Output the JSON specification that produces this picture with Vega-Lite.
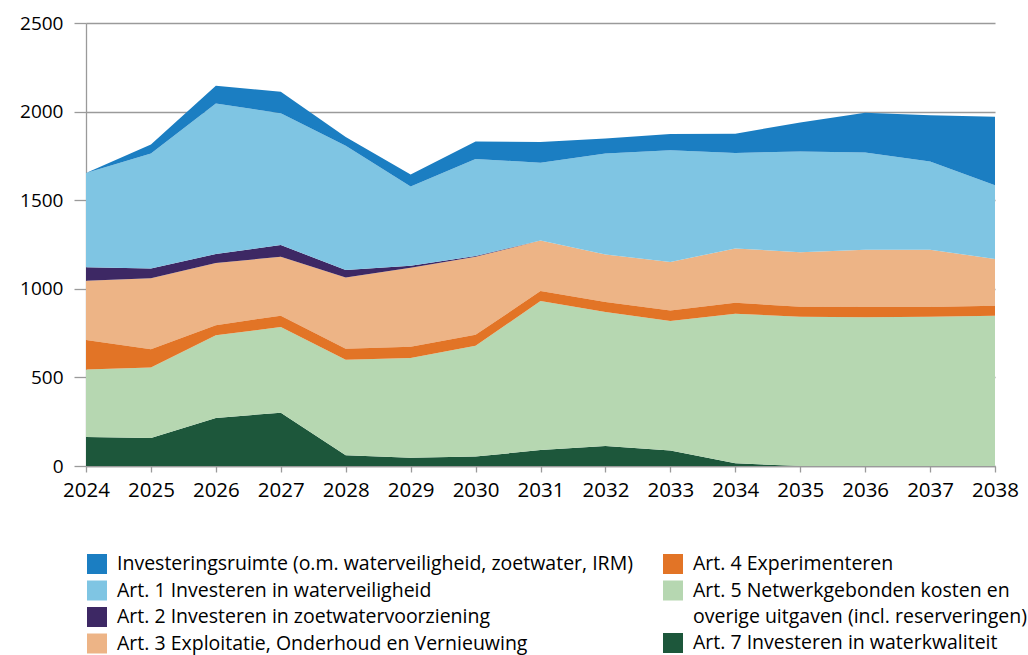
{
  "$schema": "https://vega.github.io/schema/vega-lite/v6.json",
  "width": 909,
  "height": 443,
  "autosize": {"type": "none"},
  "padding": {"left": 86, "top": 23, "right": 33, "bottom": 189},
  "config": {
    "view": {"stroke": null},
    "font": "Open Sans",
    "style": {"guide-label": {"lineHeight": 26}},
    "axis": {"domainColor": "#9a9a9a", "tickColor": "#9a9a9a", "gridColor": "#9a9a9a", "labelColor": "#000000", "domainWidth": 1.3, "tickWidth": 1.3, "gridWidth": 1.3}
  },
  "data": {
    "values": [
      {"jaar": 2024, "serie": "Art. 7 Investeren in waterkwaliteit", "waarde": 164},
      {"jaar": 2024, "serie": "Art. 5 Netwerkgebonden kosten en overige uitgaven (incl. reserveringen)", "waarde": 381},
      {"jaar": 2024, "serie": "Art. 4 Experimenteren", "waarde": 166},
      {"jaar": 2024, "serie": "Art. 3 Exploitatie, Onderhoud en Vernieuwing", "waarde": 334},
      {"jaar": 2024, "serie": "Art. 2 Investeren in zoetwatervoorziening", "waarde": 77},
      {"jaar": 2024, "serie": "Art. 1 Investeren in waterveiligheid", "waarde": 531},
      {"jaar": 2024, "serie": "Investeringsruimte (o.m. waterveiligheid, zoetwater, IRM)", "waarde": 0},
      {"jaar": 2025, "serie": "Art. 7 Investeren in waterkwaliteit", "waarde": 158},
      {"jaar": 2025, "serie": "Art. 5 Netwerkgebonden kosten en overige uitgaven (incl. reserveringen)", "waarde": 398},
      {"jaar": 2025, "serie": "Art. 4 Experimenteren", "waarde": 103},
      {"jaar": 2025, "serie": "Art. 3 Exploitatie, Onderhoud en Vernieuwing", "waarde": 400},
      {"jaar": 2025, "serie": "Art. 2 Investeren in zoetwatervoorziening", "waarde": 56},
      {"jaar": 2025, "serie": "Art. 1 Investeren in waterveiligheid", "waarde": 648},
      {"jaar": 2025, "serie": "Investeringsruimte (o.m. waterveiligheid, zoetwater, IRM)", "waarde": 51},
      {"jaar": 2026, "serie": "Art. 7 Investeren in waterkwaliteit", "waarde": 271},
      {"jaar": 2026, "serie": "Art. 5 Netwerkgebonden kosten en overige uitgaven (incl. reserveringen)", "waarde": 467},
      {"jaar": 2026, "serie": "Art. 4 Experimenteren", "waarde": 57},
      {"jaar": 2026, "serie": "Art. 3 Exploitatie, Onderhoud en Vernieuwing", "waarde": 350},
      {"jaar": 2026, "serie": "Art. 2 Investeren in zoetwatervoorziening", "waarde": 51},
      {"jaar": 2026, "serie": "Art. 1 Investeren in waterveiligheid", "waarde": 850},
      {"jaar": 2026, "serie": "Investeringsruimte (o.m. waterveiligheid, zoetwater, IRM)", "waarde": 100},
      {"jaar": 2027, "serie": "Art. 7 Investeren in waterkwaliteit", "waarde": 301},
      {"jaar": 2027, "serie": "Art. 5 Netwerkgebonden kosten en overige uitgaven (incl. reserveringen)", "waarde": 483},
      {"jaar": 2027, "serie": "Art. 4 Experimenteren", "waarde": 64},
      {"jaar": 2027, "serie": "Art. 3 Exploitatie, Onderhoud en Vernieuwing", "waarde": 333},
      {"jaar": 2027, "serie": "Art. 2 Investeren in zoetwatervoorziening", "waarde": 66},
      {"jaar": 2027, "serie": "Art. 1 Investeren in waterveiligheid", "waarde": 743},
      {"jaar": 2027, "serie": "Investeringsruimte (o.m. waterveiligheid, zoetwater, IRM)", "waarde": 122},
      {"jaar": 2028, "serie": "Art. 7 Investeren in waterkwaliteit", "waarde": 60},
      {"jaar": 2028, "serie": "Art. 5 Netwerkgebonden kosten en overige uitgaven (incl. reserveringen)", "waarde": 539},
      {"jaar": 2028, "serie": "Art. 4 Experimenteren", "waarde": 62},
      {"jaar": 2028, "serie": "Art. 3 Exploitatie, Onderhoud en Vernieuwing", "waarde": 403},
      {"jaar": 2028, "serie": "Art. 2 Investeren in zoetwatervoorziening", "waarde": 42},
      {"jaar": 2028, "serie": "Art. 1 Investeren in waterveiligheid", "waarde": 701},
      {"jaar": 2028, "serie": "Investeringsruimte (o.m. waterveiligheid, zoetwater, IRM)", "waarde": 49},
      {"jaar": 2029, "serie": "Art. 7 Investeren in waterkwaliteit", "waarde": 47},
      {"jaar": 2029, "serie": "Art. 5 Netwerkgebonden kosten en overige uitgaven (incl. reserveringen)", "waarde": 563},
      {"jaar": 2029, "serie": "Art. 4 Experimenteren", "waarde": 63},
      {"jaar": 2029, "serie": "Art. 3 Exploitatie, Onderhoud en Vernieuwing", "waarde": 446},
      {"jaar": 2029, "serie": "Art. 2 Investeren in zoetwatervoorziening", "waarde": 11},
      {"jaar": 2029, "serie": "Art. 1 Investeren in waterveiligheid", "waarde": 447},
      {"jaar": 2029, "serie": "Investeringsruimte (o.m. waterveiligheid, zoetwater, IRM)", "waarde": 68},
      {"jaar": 2030, "serie": "Art. 7 Investeren in waterkwaliteit", "waarde": 53},
      {"jaar": 2030, "serie": "Art. 5 Netwerkgebonden kosten en overige uitgaven (incl. reserveringen)", "waarde": 625},
      {"jaar": 2030, "serie": "Art. 4 Experimenteren", "waarde": 62},
      {"jaar": 2030, "serie": "Art. 3 Exploitatie, Onderhoud en Vernieuwing", "waarde": 441},
      {"jaar": 2030, "serie": "Art. 2 Investeren in zoetwatervoorziening", "waarde": 4},
      {"jaar": 2030, "serie": "Art. 1 Investeren in waterveiligheid", "waarde": 548},
      {"jaar": 2030, "serie": "Investeringsruimte (o.m. waterveiligheid, zoetwater, IRM)", "waarde": 98},
      {"jaar": 2031, "serie": "Art. 7 Investeren in waterkwaliteit", "waarde": 90},
      {"jaar": 2031, "serie": "Art. 5 Netwerkgebonden kosten en overige uitgaven (incl. reserveringen)", "waarde": 841},
      {"jaar": 2031, "serie": "Art. 4 Experimenteren", "waarde": 56},
      {"jaar": 2031, "serie": "Art. 3 Exploitatie, Onderhoud en Vernieuwing", "waarde": 285},
      {"jaar": 2031, "serie": "Art. 2 Investeren in zoetwatervoorziening", "waarde": 0},
      {"jaar": 2031, "serie": "Art. 1 Investeren in waterveiligheid", "waarde": 439},
      {"jaar": 2031, "serie": "Investeringsruimte (o.m. waterveiligheid, zoetwater, IRM)", "waarde": 118},
      {"jaar": 2032, "serie": "Art. 7 Investeren in waterkwaliteit", "waarde": 113},
      {"jaar": 2032, "serie": "Art. 5 Netwerkgebonden kosten en overige uitgaven (incl. reserveringen)", "waarde": 756},
      {"jaar": 2032, "serie": "Art. 4 Experimenteren", "waarde": 56},
      {"jaar": 2032, "serie": "Art. 3 Exploitatie, Onderhoud en Vernieuwing", "waarde": 269},
      {"jaar": 2032, "serie": "Art. 2 Investeren in zoetwatervoorziening", "waarde": 0},
      {"jaar": 2032, "serie": "Art. 1 Investeren in waterveiligheid", "waarde": 569},
      {"jaar": 2032, "serie": "Investeringsruimte (o.m. waterveiligheid, zoetwater, IRM)", "waarde": 85},
      {"jaar": 2033, "serie": "Art. 7 Investeren in waterkwaliteit", "waarde": 87},
      {"jaar": 2033, "serie": "Art. 5 Netwerkgebonden kosten en overige uitgaven (incl. reserveringen)", "waarde": 731},
      {"jaar": 2033, "serie": "Art. 4 Experimenteren", "waarde": 60},
      {"jaar": 2033, "serie": "Art. 3 Exploitatie, Onderhoud en Vernieuwing", "waarde": 273},
      {"jaar": 2033, "serie": "Art. 2 Investeren in zoetwatervoorziening", "waarde": 0},
      {"jaar": 2033, "serie": "Art. 1 Investeren in waterveiligheid", "waarde": 631},
      {"jaar": 2033, "serie": "Investeringsruimte (o.m. waterveiligheid, zoetwater, IRM)", "waarde": 91},
      {"jaar": 2034, "serie": "Art. 7 Investeren in waterkwaliteit", "waarde": 15},
      {"jaar": 2034, "serie": "Art. 5 Netwerkgebonden kosten en overige uitgaven (incl. reserveringen)", "waarde": 844},
      {"jaar": 2034, "serie": "Art. 4 Experimenteren", "waarde": 62},
      {"jaar": 2034, "serie": "Art. 3 Exploitatie, Onderhoud en Vernieuwing", "waarde": 307},
      {"jaar": 2034, "serie": "Art. 2 Investeren in zoetwatervoorziening", "waarde": 0},
      {"jaar": 2034, "serie": "Art. 1 Investeren in waterveiligheid", "waarde": 539},
      {"jaar": 2034, "serie": "Investeringsruimte (o.m. waterveiligheid, zoetwater, IRM)", "waarde": 108},
      {"jaar": 2035, "serie": "Art. 7 Investeren in waterkwaliteit", "waarde": 0},
      {"jaar": 2035, "serie": "Art. 5 Netwerkgebonden kosten en overige uitgaven (incl. reserveringen)", "waarde": 842},
      {"jaar": 2035, "serie": "Art. 4 Experimenteren", "waarde": 57},
      {"jaar": 2035, "serie": "Art. 3 Exploitatie, Onderhoud en Vernieuwing", "waarde": 307},
      {"jaar": 2035, "serie": "Art. 2 Investeren in zoetwatervoorziening", "waarde": 0},
      {"jaar": 2035, "serie": "Art. 1 Investeren in waterveiligheid", "waarde": 569},
      {"jaar": 2035, "serie": "Investeringsruimte (o.m. waterveiligheid, zoetwater, IRM)", "waarde": 164},
      {"jaar": 2036, "serie": "Art. 7 Investeren in waterkwaliteit", "waarde": 0},
      {"jaar": 2036, "serie": "Art. 5 Netwerkgebonden kosten en overige uitgaven (incl. reserveringen)", "waarde": 840},
      {"jaar": 2036, "serie": "Art. 4 Experimenteren", "waarde": 57},
      {"jaar": 2036, "serie": "Art. 3 Exploitatie, Onderhoud en Vernieuwing", "waarde": 324},
      {"jaar": 2036, "serie": "Art. 2 Investeren in zoetwatervoorziening", "waarde": 0},
      {"jaar": 2036, "serie": "Art. 1 Investeren in waterveiligheid", "waarde": 548},
      {"jaar": 2036, "serie": "Investeringsruimte (o.m. waterveiligheid, zoetwater, IRM)", "waarde": 224},
      {"jaar": 2037, "serie": "Art. 7 Investeren in waterkwaliteit", "waarde": 0},
      {"jaar": 2037, "serie": "Art. 5 Netwerkgebonden kosten en overige uitgaven (incl. reserveringen)", "waarde": 842},
      {"jaar": 2037, "serie": "Art. 4 Experimenteren", "waarde": 55},
      {"jaar": 2037, "serie": "Art. 3 Exploitatie, Onderhoud en Vernieuwing", "waarde": 324},
      {"jaar": 2037, "serie": "Art. 2 Investeren in zoetwatervoorziening", "waarde": 0},
      {"jaar": 2037, "serie": "Art. 1 Investeren in waterveiligheid", "waarde": 497},
      {"jaar": 2037, "serie": "Investeringsruimte (o.m. waterveiligheid, zoetwater, IRM)", "waarde": 262},
      {"jaar": 2038, "serie": "Art. 7 Investeren in waterkwaliteit", "waarde": 0},
      {"jaar": 2038, "serie": "Art. 5 Netwerkgebonden kosten en overige uitgaven (incl. reserveringen)", "waarde": 848},
      {"jaar": 2038, "serie": "Art. 4 Experimenteren", "waarde": 56},
      {"jaar": 2038, "serie": "Art. 3 Exploitatie, Onderhoud en Vernieuwing", "waarde": 264},
      {"jaar": 2038, "serie": "Art. 2 Investeren in zoetwatervoorziening", "waarde": 0},
      {"jaar": 2038, "serie": "Art. 1 Investeren in waterveiligheid", "waarde": 416},
      {"jaar": 2038, "serie": "Investeringsruimte (o.m. waterveiligheid, zoetwater, IRM)", "waarde": 387}
    ]
  },
  "transform": [
    {"calculate": "indexof(['Art. 7 Investeren in waterkwaliteit', 'Art. 5 Netwerkgebonden kosten en overige uitgaven (incl. reserveringen)', 'Art. 4 Experimenteren', 'Art. 3 Exploitatie, Onderhoud en Vernieuwing', 'Art. 2 Investeren in zoetwatervoorziening', 'Art. 1 Investeren in waterveiligheid', 'Investeringsruimte (o.m. waterveiligheid, zoetwater, IRM)'], datum.serie)", "as": "rang"},
    {"stack": "waarde", "groupby": ["jaar"], "sort": [{"field": "rang", "order": "ascending"}], "as": ["onder", "boven"]}
  ],
  "encoding": {
    "x": {
      "field": "jaar", "type": "quantitative",
      "scale": {"domain": [2024, 2038], "nice": false, "zero": false},
      "axis": {"title": null, "values": [2024, 2025, 2026, 2027, 2028, 2029, 2030, 2031, 2032, 2033, 2034, 2035, 2036, 2037, 2038], "format": "d", "grid": false, "labelFontSize": 20.5, "tickSize": 6, "labelPadding": 8, "labelFlush": false, "labelOverlap": false}
    },
    "y": {
      "field": "boven", "type": "quantitative",
      "scale": {"domain": [0, 2500], "nice": false},
      "axis": {"title": null, "values": [0, 500, 1000, 1500, 2000, 2500], "format": "d", "grid": true, "labelFontSize": 19, "tickSize": 12, "labelPadding": 11}
    },
    "y2": {"field": "onder"}
  },
  "layer": [
    {
      "transform": [{"filter": "datum.rang >= 3"}],
      "mark": {"type": "area", "opacity": 1, "interpolate": "linear"},
      "encoding": {
        "color": {
          "field": "serie", "type": "nominal",
          "scale": {
            "domain": ["Investeringsruimte (o.m. waterveiligheid, zoetwater, IRM)", "Art. 1 Investeren in waterveiligheid", "Art. 2 Investeren in zoetwatervoorziening", "Art. 3 Exploitatie, Onderhoud en Vernieuwing"],
            "range": ["#1b7ec2", "#7fc5e3", "#3d2864", "#edb486"]
          },
          "legend": {"title": null, "orient": "none", "legendX": 1, "legendY": 531, "direction": "vertical", "symbolType": "square", "symbolSize": 400, "symbolStrokeWidth": 0, "labelFontSize": 19.5, "labelOffset": 10, "rowPadding": 6.5, "labelLimit": 700, "labelColor": "#000000", "padding": 0}
        },
        "order": {"field": "rang"}
      }
    },
    {
      "transform": [{"filter": "datum.rang < 3"}],
      "mark": {"type": "area", "opacity": 1, "interpolate": "linear"},
      "encoding": {
        "color": {
          "field": "serie", "type": "nominal",
          "scale": {
            "domain": ["Art. 4 Experimenteren", "Art. 5 Netwerkgebonden kosten en overige uitgaven (incl. reserveringen)", "Art. 7 Investeren in waterkwaliteit"],
            "range": ["#e27426", "#b6d7b1", "#1d573b"]
          },
          "legend": {"title": null, "orient": "none", "legendX": 577, "legendY": 531, "direction": "vertical", "symbolType": "square", "symbolSize": 400, "symbolStrokeWidth": 0, "labelFontSize": 19.5, "labelOffset": 10, "rowPadding": 6.5, "labelLimit": 700, "labelColor": "#000000", "padding": 0,
            "labelExpr": "indexof(datum.label, 'Art. 5') == 0 ? ['Art. 5 Netwerkgebonden kosten en', 'overige uitgaven (incl. reserveringen)'] : datum.label"}
        },
        "order": {"field": "rang"}
      }
    }
  ],
  "resolve": {"scale": {"color": "independent"}, "legend": {"color": "independent"}}
}
